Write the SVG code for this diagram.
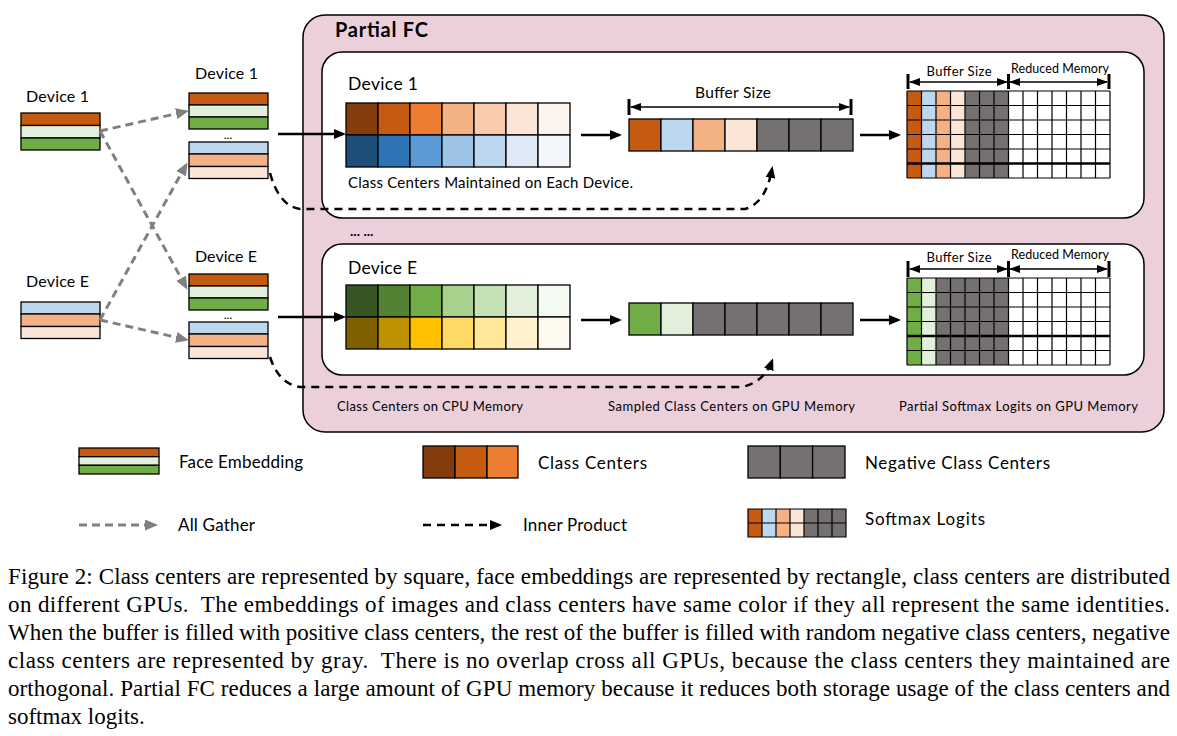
<svg xmlns="http://www.w3.org/2000/svg" width="1177" height="736" viewBox="0 0 1177 736">
<style>
.t{font-family:Lato,"Open Sans","DejaVu Sans",sans-serif;fill:#000}
.cap{font-family:"Liberation Serif","Times New Roman",serif;font-size:23px;fill:#000;white-space:pre}
.c{stroke:#000;stroke-width:1.3}
.sol{fill:none;stroke:#000;stroke-width:2.5}
.gd{fill:none;stroke:#808080;stroke-width:3;stroke-dasharray:8 5}
.bd{fill:none;stroke:#000;stroke-width:2.5;stroke-dasharray:8 6}
.dim{fill:none;stroke:#000;stroke-width:1.3}
.bar{stroke:#000;stroke-width:3}
.grid{fill:none;stroke:#000;stroke-width:1.2}
</style>
<defs>
<marker id="ab" viewBox="0 0 12 10" refX="9" refY="5" markerWidth="12" markerHeight="10" markerUnits="userSpaceOnUse" orient="auto"><path d="M0,0 L12,5 L0,10 z" fill="#000"/></marker>
<marker id="ag" viewBox="0 0 13 11" refX="10" refY="5.5" markerWidth="13" markerHeight="11" markerUnits="userSpaceOnUse" orient="auto"><path d="M0,0 L13,5.5 L0,11 z" fill="#808080"/></marker>
<marker id="ad" viewBox="0 0 11 8" refX="10" refY="4" markerWidth="11" markerHeight="8" markerUnits="userSpaceOnUse" orient="auto-start-reverse"><path d="M0,0 L11,4 L0,8 z" fill="#000"/></marker>
</defs>
<rect width="1177" height="736" fill="#fff"/>

<g id="partial-fc">
<rect x="303" y="15" width="861" height="417" rx="22" fill="#EBD0DC" stroke="#000" stroke-width="1.5"/>
<text class="t" x="335" y="37" font-size="20" font-weight="bold" textLength="93">Partial FC</text>
<text class="t" x="337" y="411" font-size="13" textLength="186">Class Centers on CPU Memory</text>
<text class="t" x="608" y="411" font-size="13" textLength="247">Sampled Class Centers on GPU Memory</text>
<text class="t" x="899" y="411" font-size="13" textLength="239">Partial Softmax Logits on GPU Memory</text>
<text class="t" x="350" y="236" font-size="14" font-weight="bold">... ...</text>
</g>

<g id="device1-box">
<rect x="322" y="52" width="822" height="166" rx="20" fill="#fff" stroke="#000" stroke-width="1.5"/>
<text class="t" x="348" y="90" font-size="17.5" textLength="70">Device 1</text>
<g class="c">
<rect x="346" y="103" width="32" height="32" fill="#843C0C"/>
<rect x="378" y="103" width="32" height="32" fill="#C55A11"/>
<rect x="410" y="103" width="32" height="32" fill="#ED7D31"/>
<rect x="442" y="103" width="32" height="32" fill="#F4B183"/>
<rect x="474" y="103" width="32" height="32" fill="#F8CBAD"/>
<rect x="506" y="103" width="32" height="32" fill="#FBE5D6"/>
<rect x="538" y="103" width="32" height="32" fill="#FEF4EF"/>
<rect x="346" y="135" width="32" height="32" fill="#1F4E79"/>
<rect x="378" y="135" width="32" height="32" fill="#2E75B6"/>
<rect x="410" y="135" width="32" height="32" fill="#5B9BD5"/>
<rect x="442" y="135" width="32" height="32" fill="#9DC3E6"/>
<rect x="474" y="135" width="32" height="32" fill="#BDD7EE"/>
<rect x="506" y="135" width="32" height="32" fill="#DEEBF7"/>
<rect x="538" y="135" width="32" height="32" fill="#F3F7FC"/>
</g>
<text class="t" x="348" y="188" font-size="15" textLength="285">Class Centers Maintained on Each Device.</text>
<g class="c">
<rect x="629" y="119" width="32" height="32" fill="#C55A11"/>
<rect x="661" y="119" width="32" height="32" fill="#BDD7EE"/>
<rect x="693" y="119" width="32" height="32" fill="#F4B183"/>
<rect x="725" y="119" width="32" height="32" fill="#FBE5D6"/>
<rect x="757" y="119" width="32" height="32" fill="#767171"/>
<rect x="789" y="119" width="32" height="32" fill="#767171"/>
<rect x="821" y="119" width="32" height="32" fill="#767171"/>
</g>
<text class="t" x="733" y="98" font-size="15.5" text-anchor="middle" textLength="76">Buffer Size</text>
<line class="bar" x1="629" y1="99" x2="629" y2="115"/>
<line class="bar" x1="851" y1="99" x2="851" y2="115"/>
<line class="dim" x1="631" y1="107" x2="849" y2="107" marker-start="url(#ad)" marker-end="url(#ad)"/>
<g id="softmax1">
<rect x="907" y="91" width="14.5" height="87" fill="#C55A11"/>
<rect x="921.5" y="91" width="14.5" height="87" fill="#BDD7EE"/>
<rect x="936" y="91" width="14.5" height="87" fill="#F4B183"/>
<rect x="950.5" y="91" width="14.5" height="87" fill="#FBE5D6"/>
<rect x="965" y="91" width="43.5" height="87" fill="#767171"/>
<rect x="1008.5" y="91" width="101.5" height="87" fill="#fff"/>
<path class="grid" d="M907,91V178M921.5,91V178M936,91V178M950.5,91V178M965,91V178M979.5,91V178M994,91V178M1008.5,91V178M1023,91V178M1037.5,91V178M1052,91V178M1066.5,91V178M1081,91V178M1095.5,91V178M1110,91V178M907,91H1110M907,105.5H1110M907,120H1110M907,134.5H1110M907,149H1110M907,178H1110"/>
<line x1="907" y1="163.5" x2="1110" y2="163.5" stroke="#000" stroke-width="2.5"/>
</g>
<text class="t" x="959" y="76" font-size="13" text-anchor="middle" textLength="65">Buffer Size</text>
<text class="t" x="1060" y="73" font-size="12.5" text-anchor="middle" textLength="98">Reduced Memory</text>
<line class="bar" x1="908" y1="74" x2="908" y2="89"/>
<line class="bar" x1="1008.5" y1="74" x2="1008.5" y2="89"/>
<line class="bar" x1="1109" y1="74" x2="1109" y2="89"/>
<line class="dim" x1="910" y1="82" x2="1007" y2="82" marker-start="url(#ad)" marker-end="url(#ad)"/>
<line class="dim" x1="1010" y1="82" x2="1107" y2="82" marker-start="url(#ad)" marker-end="url(#ad)"/>
</g>

<g id="deviceE-box">
<rect x="322" y="244" width="822" height="131" rx="20" fill="#fff" stroke="#000" stroke-width="1.5"/>
<text class="t" x="348" y="274" font-size="17.5" textLength="69">Device E</text>
<g class="c">
<rect x="346" y="285" width="32" height="32" fill="#375623"/>
<rect x="378" y="285" width="32" height="32" fill="#548235"/>
<rect x="410" y="285" width="32" height="32" fill="#70AD47"/>
<rect x="442" y="285" width="32" height="32" fill="#A9D18E"/>
<rect x="474" y="285" width="32" height="32" fill="#C5E0B4"/>
<rect x="506" y="285" width="32" height="32" fill="#E2EFDA"/>
<rect x="538" y="285" width="32" height="32" fill="#F4F9F1"/>
<rect x="346" y="317" width="32" height="32" fill="#7F6000"/>
<rect x="378" y="317" width="32" height="32" fill="#BF9000"/>
<rect x="410" y="317" width="32" height="32" fill="#FFC000"/>
<rect x="442" y="317" width="32" height="32" fill="#FFD966"/>
<rect x="474" y="317" width="32" height="32" fill="#FFE699"/>
<rect x="506" y="317" width="32" height="32" fill="#FFF2CC"/>
<rect x="538" y="317" width="32" height="32" fill="#FFFAEF"/>
</g>
<g class="c">
<rect x="629" y="303" width="32" height="32" fill="#70AD47"/>
<rect x="661" y="303" width="32" height="32" fill="#E2EFDA"/>
<rect x="693" y="303" width="32" height="32" fill="#767171"/>
<rect x="725" y="303" width="32" height="32" fill="#767171"/>
<rect x="757" y="303" width="32" height="32" fill="#767171"/>
<rect x="789" y="303" width="32" height="32" fill="#767171"/>
<rect x="821" y="303" width="32" height="32" fill="#767171"/>
</g>
<g id="softmaxE">
<rect x="907" y="278" width="14.5" height="87" fill="#70AD47"/>
<rect x="921.5" y="278" width="14.5" height="87" fill="#E2EFDA"/>
<rect x="936" y="278" width="72.5" height="87" fill="#767171"/>
<rect x="1008.5" y="278" width="101.5" height="87" fill="#fff"/>
<path class="grid" d="M907,278V365M921.5,278V365M936,278V365M950.5,278V365M965,278V365M979.5,278V365M994,278V365M1008.5,278V365M1023,278V365M1037.5,278V365M1052,278V365M1066.5,278V365M1081,278V365M1095.5,278V365M1110,278V365M907,278H1110M907,292.5H1110M907,307H1110M907,321.5H1110M907,350.5H1110M907,365H1110"/>
<line x1="907" y1="336" x2="1110" y2="336" stroke="#000" stroke-width="2.5"/>
</g>
<text class="t" x="959" y="262" font-size="13" text-anchor="middle" textLength="65">Buffer Size</text>
<text class="t" x="1060" y="259" font-size="12.5" text-anchor="middle" textLength="98">Reduced Memory</text>
<line class="bar" x1="908" y1="261" x2="908" y2="277"/>
<line class="bar" x1="1008.5" y1="261" x2="1008.5" y2="277"/>
<line class="bar" x1="1109" y1="261" x2="1109" y2="277"/>
<line class="dim" x1="910" y1="269" x2="1007" y2="269" marker-start="url(#ad)" marker-end="url(#ad)"/>
<line class="dim" x1="1010" y1="269" x2="1107" y2="269" marker-start="url(#ad)" marker-end="url(#ad)"/>
</g>

<g id="src-device1">
<text class="t" x="26" y="102" font-size="16" textLength="63">Device 1</text>
<g class="c">
<rect x="21" y="113" width="79" height="12.5" fill="#C55A11"/>
<rect x="21" y="125.5" width="79" height="12.5" fill="#E2EFDA"/>
<rect x="21" y="138" width="79" height="12" fill="#70AD47"/>
</g>
</g>
<g id="src-deviceE">
<text class="t" x="26" y="287" font-size="16" textLength="63">Device E</text>
<g class="c">
<rect x="21" y="302" width="79" height="12" fill="#BDD7EE"/>
<rect x="21" y="314" width="79" height="12.5" fill="#F4B183"/>
<rect x="21" y="326.5" width="79" height="12" fill="#FBE5D6"/>
</g>
</g>
<g id="gather-device1">
<text class="t" x="195" y="79" font-size="16" textLength="63">Device 1</text>
<g class="c">
<rect x="189" y="93" width="79" height="12" fill="#C55A11"/>
<rect x="189" y="105" width="79" height="12" fill="#E2EFDA"/>
<rect x="189" y="117" width="79" height="12" fill="#70AD47"/>
<rect x="189" y="142" width="79" height="12" fill="#BDD7EE"/>
<rect x="189" y="154" width="79" height="12.5" fill="#F4B183"/>
<rect x="189" y="166.5" width="79" height="12" fill="#FBE5D6"/>
</g>
<text class="t" x="228" y="139" font-size="12" text-anchor="middle">...</text>
</g>
<g id="gather-deviceE">
<text class="t" x="195" y="262" font-size="16" textLength="62">Device E</text>
<g class="c">
<rect x="189" y="274" width="79" height="12" fill="#C55A11"/>
<rect x="189" y="286" width="79" height="12" fill="#E2EFDA"/>
<rect x="189" y="298" width="79" height="12" fill="#70AD47"/>
<rect x="189" y="322" width="79" height="12" fill="#BDD7EE"/>
<rect x="189" y="334" width="79" height="12.5" fill="#F4B183"/>
<rect x="189" y="346.5" width="79" height="12" fill="#FBE5D6"/>
</g>
<text class="t" x="228" y="319" font-size="12" text-anchor="middle">...</text>
</g>

<g id="connectors">
<line class="gd" x1="100" y1="131" x2="186" y2="111.5" marker-end="url(#ag)"/>
<line class="gd" x1="100" y1="131" x2="186" y2="287" marker-end="url(#ag)"/>
<line class="gd" x1="100" y1="320" x2="186" y2="165" marker-end="url(#ag)"/>
<line class="gd" x1="100" y1="320" x2="186" y2="339.5" marker-end="url(#ag)"/>
<line class="sol" x1="278" y1="134" x2="343" y2="134" marker-end="url(#ab)"/>
<line class="sol" x1="581" y1="135" x2="619" y2="135" marker-end="url(#ab)"/>
<line class="sol" x1="860" y1="135" x2="898" y2="135" marker-end="url(#ab)"/>
<line class="sol" x1="278" y1="317" x2="343" y2="317" marker-end="url(#ab)"/>
<line class="sol" x1="581" y1="320" x2="619" y2="320" marker-end="url(#ab)"/>
<line class="sol" x1="860" y1="320" x2="898" y2="320" marker-end="url(#ab)"/>
<path class="bd" d="M270,173 Q279,206 300,209 L745,209 Q766,203 772,169" marker-end="url(#ab)"/>
<path class="bd" d="M270,357 Q279,384 300,387 L742,387 Q764,382 772,361" marker-end="url(#ab)"/>
</g>

<g id="legend">
<g class="c">
<rect x="79" y="448" width="80" height="8.7" fill="#C55A11"/>
<rect x="79" y="456.7" width="80" height="8.6" fill="#E2EFDA"/>
<rect x="79" y="465.3" width="80" height="8.7" fill="#70AD47"/>
<rect x="423" y="446" width="32" height="32" fill="#843C0C"/>
<rect x="455" y="446" width="32" height="32" fill="#C55A11"/>
<rect x="487" y="446" width="31" height="32" fill="#ED7D31"/>
<rect x="748" y="446" width="32.3" height="32" fill="#767171"/>
<rect x="780.3" y="446" width="32.3" height="32" fill="#767171"/>
<rect x="812.6" y="446" width="32.4" height="32" fill="#767171"/>
</g>
<g>
<rect x="748" y="509" width="14" height="28" fill="#C55A11"/>
<rect x="762" y="509" width="14" height="28" fill="#BDD7EE"/>
<rect x="776" y="509" width="14" height="28" fill="#F4B183"/>
<rect x="790" y="509" width="14" height="28" fill="#FBE5D6"/>
<rect x="804" y="509" width="42" height="28" fill="#767171"/>
<path class="grid" d="M748,509H846V537H748ZM748,523H846M762,509V537M776,509V537M790,509V537M804,509V537M818,509V537M832,509V537"/>
</g>
<text class="t" x="179" y="468" font-size="17" textLength="124">Face Embedding</text>
<text class="t" x="538" y="469" font-size="17" textLength="109">Class Centers</text>
<text class="t" x="865" y="469" font-size="17" textLength="185">Negative Class Centers</text>
<text class="t" x="178" y="531" font-size="17" textLength="77">All Gather</text>
<text class="t" x="523" y="531" font-size="17" textLength="104">Inner Product</text>
<text class="t" x="865" y="525" font-size="17" textLength="120">Softmax Logits</text>
<line class="gd" x1="79" y1="525" x2="155" y2="525" stroke-width="2.5" marker-end="url(#ag)"/>
<line class="bd" x1="423" y1="525" x2="499" y2="525" stroke-width="2.2" marker-end="url(#ab)"/>
</g>

<g id="caption">
<text class="cap" x="8" y="584" textLength="1162" lengthAdjust="spacing">Figure 2: Class centers are represented by square, face embeddings are represented by rectangle, class centers are distributed</text>
<text class="cap" x="8" y="612" textLength="1162" lengthAdjust="spacing">on different GPUs.  The embeddings of images and class centers have same color if they all represent the same identities.</text>
<text class="cap" x="8" y="640" textLength="1162" lengthAdjust="spacing">When the buffer is filled with positive class centers, the rest of the buffer is filled with random negative class centers, negative</text>
<text class="cap" x="8" y="668" textLength="1162" lengthAdjust="spacing">class centers are represented by gray.  There is no overlap cross all GPUs, because the class centers they maintained are</text>
<text class="cap" x="8" y="696" textLength="1162" lengthAdjust="spacing">orthogonal. Partial FC reduces a large amount of GPU memory because it reduces both storage usage of the class centers and</text>
<text class="cap" x="8" y="724">softmax logits.</text>
</g>
</svg>
